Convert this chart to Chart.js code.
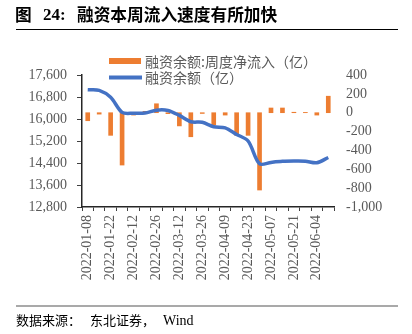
<!DOCTYPE html>
<html>
<head>
<meta charset="utf-8">
<script src="https://cdn.jsdelivr.net/npm/chart.js@4"></script>
<style>
html, body { margin: 0; padding: 0; background: #fff; }
canvas { display: block; }
</style>
</head>
<body>
<canvas id="myChart" width="412" height="334"></canvas>
<script>
// semanas (sábado) 2022, sin la semana del año nuevo chino
const fechas = ['2022-01-08', '2022-01-15', '2022-01-22', '2022-01-29', '2022-02-12', '2022-02-19',
    '2022-02-26', '2022-03-05', '2022-03-12', '2022-03-19', '2022-03-26', '2022-04-02',
    '2022-04-09', '2022-04-16', '2022-04-23', '2022-04-30', '2022-05-07', '2022-05-14',
    '2022-05-21', '2022-05-28', '2022-06-04', '2022-06-11']
// 融资余额:周度净流入（亿）
const flujo = [-85, -15, -240, -555, -25, 15, 95, -10, -140, -255, -8, -130,
    -25, -240, -240, -820, 50, 50, 5, 3, -25, 175]
// 融资余额（亿）
const saldo = [17060, 17040, 16790, 16240, 16210, 16215, 16320, 16310, 16130, 15900, 15880, 15720,
    15680, 15440, 15200, 14370, 14420, 14460, 14470, 14465, 14410, 14600]
const ejeIzq = [12800, 17600, 800]
const ejeDer = [-1000, 400, 200]

const naranja = '#ED7D31'
const azul = '#4472C4'
const gris = '#595959'

const decoracion = {
    id: 'decoracion',
    afterDraw(chart) {
        const c = chart.ctx
        c.save()
        // titulo
        c.fillStyle = '#000'
        c.textBaseline = 'middle'
        c.font = 'bold 16.7px "Noto Sans CJK SC"'
        c.fillText('图', 15, 15)
        c.fillText('融资本周流入速度有所加快', 77, 15)
        c.font = 'bold 17px "Liberation Serif"'
        c.fillText('24:', 43, 16)
        c.strokeStyle = '#000'
        c.lineWidth = 1
        c.beginPath()
        c.moveTo(16, 29.5)
        c.lineTo(398, 29.5)
        c.stroke()

        // leyenda
        const ds = chart.data.datasets
        c.fillStyle = naranja
        c.fillRect(109, 58, 32, 6)
        c.strokeStyle = azul
        c.lineWidth = 4
        c.beginPath()
        c.moveTo(109, 77.5)
        c.lineTo(142, 77.5)
        c.stroke()
        c.fillStyle = gris
        c.font = '14px "Noto Sans CJK SC"'
        c.fillText(ds[0].label, 145, 61.5)
        c.fillText(ds[1].label, 145, 78)

        // fuente
        c.strokeStyle = '#8c8c8c'
        c.lineWidth = 1.3
        c.beginPath()
        c.moveTo(16, 306)
        c.lineTo(398, 306)
        c.stroke()
        c.fillStyle = '#000'
        c.font = '13px "Noto Sans CJK SC"'
        c.fillText('数据来源：', 16, 320)
        c.fillText('东北证券，', 90, 320)
        c.font = '14px "Liberation Serif"'
        c.fillText('Wind', 163, 321)
        c.restore()
    }
}

Chart.defaults.font.family = '"Liberation Serif"'
Chart.defaults.font.size = 14
Chart.defaults.color = gris

const ctx = document.getElementById('myChart')
new Chart(ctx, {
    type: 'bar',
    data: {
        labels: fechas,
        datasets: [{
            label: '融资余额:周度净流入（亿）',
            data: flujo,
            backgroundColor: naranja,
            barThickness: 4,
            yAxisID: 'y1',
            order: 2
        }, {
            type: 'line',
            label: '融资余额（亿）',
            data: saldo,
            borderColor: azul,
            borderWidth: 3.5,
            pointRadius: 0,
            tension: 0.3,
            yAxisID: 'y',
            order: 1
        }]
    },
    options: {
        responsive: false,
        animation: false,
        layout: { padding: { top: 75, left: 0, right: 0, bottom: 0 } },
        plugins: {
            legend: { display: false },
            tooltip: { enabled: false }
        },
        scales: {
            x: {
                offset: true,
                grid: { offset: true, drawOnChartArea: false, drawTicks: true, tickLength: 4, color: '#404040' },
                border: { color: '#262626', width: 1.5 },
                ticks: {
                    autoSkip: false,
                    minRotation: 90,
                    maxRotation: 90,
                    padding: 4,
                    callback: function (v, i) { return i % 2 === 0 ? this.getLabelForValue(v) : '' }
                },
                afterFit: function (s) { s.height = 127 }
            },
            y: {
                position: 'left',
                min: ejeIzq[0],
                max: ejeIzq[1],
                grid: { drawOnChartArea: false, drawTicks: true, tickLength: 5, color: '#404040' },
                border: { color: '#262626', width: 1.5 },
                ticks: {
                    autoSkip: false,
                    stepSize: ejeIzq[2],
                    padding: 10,
                    callback: v => v.toLocaleString('en-US')
                },
                afterFit: function (s) { s.width = 82 }
            },
            y1: {
                position: 'right',
                min: ejeDer[0],
                max: ejeDer[1],
                grid: { display: false, drawTicks: false },
                border: { display: false },
                ticks: {
                    autoSkip: false,
                    stepSize: ejeDer[2],
                    padding: 12,
                    callback: v => v.toLocaleString('en-US')
                },
                afterFit: function (s) { s.width = 78 }
            }
        }
    },
    plugins: [decoracion]
})
</script>
</body>
</html>
